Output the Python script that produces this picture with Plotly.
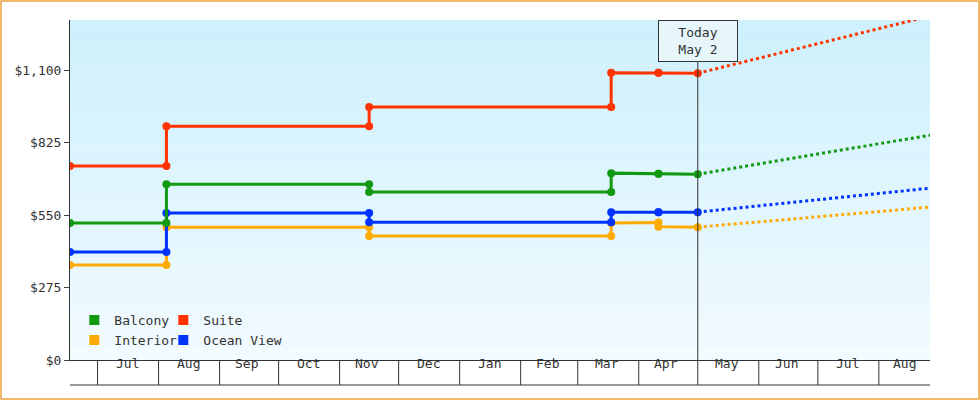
import plotly.graph_objects as go

dates = ["2023-06-17", "2023-08-05", "2023-08-05", "2023-11-16", "2023-11-16",
         "2024-03-18", "2024-03-18", "2024-04-11", "2024-04-11", "2024-05-01"]
suite = [736, 736, 887, 887, 960, 960, 1090, 1090, 1090, 1088]
balcony = [520, 520, 667, 667, 637, 637, 709, 707, 707, 705]
ocean = [410, 410, 558, 558, 523, 523, 561, 561, 561, 561]
interior = [360, 360, 504, 504, 470, 470, 520, 522, 506, 504]

proj_dates = ["2024-05-01", "2024-08-27"]
proj = {"Suite": [1088, 1305], "Balcony": [705, 853], "Ocean View": [561, 652], "Interior": [504, 580]}

month_starts = ["2023-07-01", "2023-08-01", "2023-09-01", "2023-10-01", "2023-11-01", "2023-12-01",
                "2024-01-01", "2024-02-01", "2024-03-01", "2024-04-01", "2024-05-01", "2024-06-01",
                "2024-07-01", "2024-08-01"]
month_mid = ["2023-07-16", "2023-08-16", "2023-09-15", "2023-10-16", "2023-11-15", "2023-12-16",
             "2024-01-16", "2024-02-15", "2024-03-16", "2024-04-15", "2024-05-16", "2024-06-15",
             "2024-07-16", "2024-08-14"]
month_labels = ["Jul", "Aug", "Sep", "Oct", "Nov", "Dec", "Jan", "Feb", "Mar", "Apr", "May", "Jun", "Jul", "Aug"]
y_ticks = [0, 275, 550, 825, 1100]
y_labels = ["$0", "$275", "$550", "$825", "$1,100"]

colors = {"Balcony": "#119911", "Suite": "#ff3300", "Interior": "#ffaa00", "Ocean View": "#0033ff"}
series = {"Suite": suite, "Balcony": balcony, "Ocean View": ocean, "Interior": interior}

W, H = 980, 400
L, R, T, B = 70, 50, 20, 40
pw, ph = W - L - R, H - T - B

fig = go.Figure()
n = 30
for i in range(n):
    f = i / n
    c0 = (204, 240, 252); c1 = (242, 251, 255)
    col = tuple(int(c1[k] + (c0[k] - c1[k]) * f) for k in range(3))
    fig.add_shape(type="rect", xref="paper", yref="paper", x0=0, x1=1, y0=i / n, y1=(i + 1) / n,
                  fillcolor="rgb(%d,%d,%d)" % col, line_width=0, layer="below")

for name in ["Interior", "Ocean View", "Balcony", "Suite"]:
    fig.add_trace(go.Scatter(x=proj_dates, y=proj[name], mode="lines",
                             line=dict(color=colors[name], width=3, dash="dot"), showlegend=False))
    fig.add_trace(go.Scatter(x=dates, y=series[name], mode="lines+markers",
                             line=dict(color=colors[name], width=3),
                             marker=dict(size=8, color=colors[name]), showlegend=False))

legend_items = [("Balcony", "legend"), ("Suite", "legend2"), ("Interior", "legend3"), ("Ocean View", "legend4")]
for name, lg in legend_items:
    fig.add_trace(go.Scatter(x=[None], y=[None], mode="markers", name=name, legend=lg,
                             marker=dict(symbol="square", size=10, color=colors[name])))

for d in month_starts:
    fig.add_shape(type="line", x0=d, x1=d, yref="paper", y0=0, y1=-25 / ph,
                  line=dict(color="#333", width=1))
for d, t in zip(month_mid, month_labels):
    fig.add_annotation(x=d, yref="paper", y=-12.5 / ph, text=t, showarrow=False,
                       font=dict(size=13, color="#333"))

fig.add_shape(type="line", x0="2024-05-01", x1="2024-05-01", yref="paper", y0=0, y1=1 - 40 / ph,
              line=dict(color="#333", width=1))
fig.add_annotation(x="2024-05-01", yref="paper", y=1, yanchor="top", text="Today<br>May 2",
                   showarrow=False, bgcolor="#e6f6fb", bordercolor="#333", borderwidth=1,
                   borderpad=4, width=70, font=dict(size=13, color="#333"))
fig.add_shape(type="rect", xref="paper", yref="paper", x0=-(L - 1) / pw, x1=1 + (R - 1) / pw,
              y0=-(B - 1) / ph, y1=1 + (T - 1) / ph, line=dict(color="#f0a040", width=1.5))
fig.add_shape(type="line", xref="paper", yref="paper", x0=0, x1=1, y0=-25 / ph, y1=-25 / ph,
              line=dict(color="#333", width=1))

legcommon = dict(orientation="h", xanchor="left", yanchor="middle", bgcolor="rgba(0,0,0,0)",
                 font=dict(size=13, color="#333"), itemwidth=30, borderwidth=0)
x2 = 0.005 + 89 / pw
fig.update_layout(
    width=W, height=H, margin=dict(l=L, r=R, t=T, b=B, autoexpand=False),
    paper_bgcolor="white", plot_bgcolor="rgba(0,0,0,0)",
    font=dict(family="DejaVu Sans Mono", size=13, color="#333"),
    legend=dict(x=0.005, y=40 / ph, **legcommon),
    legend2=dict(x=x2, y=40 / ph, **legcommon),
    legend3=dict(x=0.005, y=20 / ph, **legcommon),
    legend4=dict(x=x2, y=20 / ph, **legcommon),
    xaxis=dict(type="date", range=["2023-06-17", "2024-08-27"], showticklabels=False, ticks="",
               showgrid=False, showline=True, linecolor="#333", zeroline=False),
    yaxis=dict(range=[0, 1290], tickvals=y_ticks, ticktext=y_labels,
               ticks="outside", ticklen=5, showgrid=False, showline=True, linecolor="#333",
               linewidth=1, zeroline=False),
)
fig.write_html("out.html", config={"displayModeBar": False},
               post_script="document.body.style.margin='0';document.body.style.overflow='hidden';")
